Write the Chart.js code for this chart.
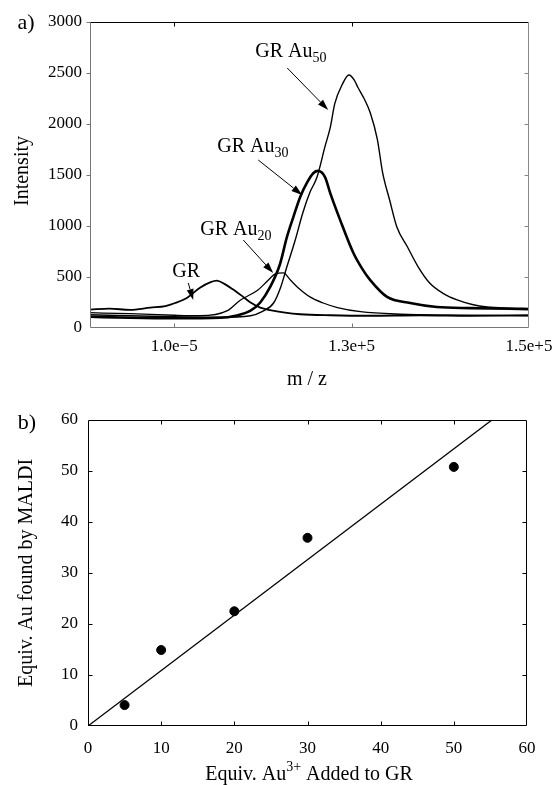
<!DOCTYPE html>
<html>
<head>
<meta charset="utf-8">
<script src="https://cdn.jsdelivr.net/npm/chart.js@4.4.0/dist/chart.umd.min.js"></script>
<style>
  body { margin: 0; background: #fff; width: 555px; height: 785px; overflow: hidden; }
  .box { position: absolute; left: 0; width: 555px; }
</style>
</head>
<body>
<div class="box" style="top:0;height:385px"><canvas id="spec"></canvas></div>
<div class="box" style="top:385px;height:400px"><canvas id="fit"></canvas></div>
<script>
// panel a) MALDI spectra
const mzGR = [100500, 102700, 105000, 107300, 109000, 110100, 111500, 112900, 114100, 114800, 115700, 116600, 117700, 118600, 119700, 120800, 122500, 124200, 127600, 132100, 137700, 143400, 150000]
const intGR = [180, 190, 178, 200, 215, 245, 300, 395, 450, 465, 430, 380, 310, 250, 200, 175, 150, 135, 125, 120, 125, 120, 125]

const mzAu20 = [100500, 105000, 110000, 112900, 116000, 117400, 119400, 120500, 121400, 122300, 123100, 123900, 125300, 126800, 128400, 131000, 135500, 141100, 150000]
const intAu20 = [150, 140, 125, 120, 170, 270, 370, 460, 530, 540, 470, 400, 305, 245, 200, 160, 135, 125, 120]

const mzAu30 = [100500, 105000, 110000, 115200, 116900, 118600, 119700, 120800, 121900, 122700, 123400, 124200, 125000, 125700, 126200, 127000, 127600, 128700, 130200, 131200, 132100, 134000, 136600, 139600, 143400, 150000]
const intAu30 = [110, 100, 95, 100, 120, 170, 250, 400, 620, 890, 1080, 1285, 1430, 1520, 1540, 1480, 1320, 1060, 735, 580, 470, 305, 245, 206, 195, 185]

const mzAu50 = [100500, 110000, 115000, 118600, 119900, 121200, 122000, 122700, 123600, 124500, 125300, 126100, 127000, 127600, 128100, 128900, 129700, 130300, 130700, 131400, 132100, 132900, 133500, 134300, 135100, 136300, 137500, 138800, 140300, 141900, 143600, 145300, 147900, 150000]
const intAu50 = [130, 110, 105, 120, 160, 245, 400, 600, 850, 1130, 1330, 1480, 1780, 1970, 2200, 2380, 2480, 2430, 2360, 2250, 2110, 1850, 1520, 1250, 990, 794, 600, 441, 340, 275, 230, 206, 195, 190]

const mzTicks = [110000, 130000, 150000]
const mzTickText = ['1.0e\u22125', '1.3e+5', '1.5e+5']

// panel b) Au found vs Au added
const addedAu = [5, 10, 20, 30, 50]
const foundAu = [4.1, 14.9, 22.5, 36.9, 50.8]
const fitX = [0, 55.2]
const fitY = [0, 60]

const SERIF = '"Liberation Serif", "Times New Roman", serif'

const pts = (xs, ys) => xs.map((v, i) => ({ x: v, y: ys[i] }))

// text pieces: [string, kind] kind 0 normal, 1 subscript, 2 superscript
function drawRich (ctx, parts, x, y, size, align) {
  const fontFor = k => (k === 0 ? size : Math.round(size * 0.68)) + 'px ' + SERIF
  let w = 0
  parts.forEach(([t, k]) => { ctx.font = fontFor(k); w += ctx.measureText(t).width })
  let cx = align === 'center' ? x - w / 2 : x
  ctx.textAlign = 'left'
  ctx.textBaseline = 'alphabetic'
  parts.forEach(([t, k]) => {
    ctx.font = fontFor(k)
    const dy = k === 1 ? size * 0.25 : k === 2 ? -size * 0.45 : 0
    ctx.fillText(t, cx, y + dy)
    cx += ctx.measureText(t).width
  })
}

function arrow (ctx, x1, y1, x2, y2) {
  const ang = Math.atan2(y2 - y1, x2 - x1)
  const L = 11, W = 3.5
  const bx = x2 - L * Math.cos(ang), by = y2 - L * Math.sin(ang)
  ctx.beginPath()
  ctx.moveTo(x1, y1)
  ctx.lineTo(bx, by)
  ctx.stroke()
  ctx.beginPath()
  ctx.moveTo(x2, y2)
  ctx.lineTo(bx + W * Math.sin(ang), by - W * Math.cos(ang))
  ctx.lineTo(bx - W * Math.sin(ang), by + W * Math.cos(ang))
  ctx.closePath()
  ctx.fill()
}

// box round the plot with ticks pointing inwards (or out on the left)
const framePlugin = {
  id: 'frame',
  afterDraw (chart, args, o) {
    const { ctx, chartArea: a, scales: { x, y } } = chart
    const L = Math.round(a.left) + 0.5, R = Math.round(a.right) - 0.5
    const T = Math.round(a.top) + 0.5, B = Math.round(a.bottom) - 0.5
    const seg = (c, x1, y1, x2, y2) => {
      ctx.strokeStyle = c
      ctx.beginPath(); ctx.moveTo(x1, y1); ctx.lineTo(x2, y2); ctx.stroke()
    }
    ctx.save()
    ctx.lineWidth = 1
    const n = o.len
    x.ticks.forEach(t => {
      const p = Math.round(x.getPixelForValue(t.value)) + 0.5
      if (p <= L + 1 || p >= R - 1) return
      seg(o.top, p, T, p, T + n)
      seg(o.bottom, p, B, p, B - n)
    })
    y.ticks.forEach(t => {
      const p = Math.round(y.getPixelForValue(t.value)) + 0.5
      if (p <= T + 1 || p >= B - 1) return
      seg(o.right, R, p, R - n, p)
      if (o.leftOut) seg(o.left, L, p, L - n, p)
      else seg(o.left, L, p, L + n, p)
    })
    if (o.leftOut) seg(o.left, L, T, L - n, T)
    seg(o.top, L, T, R, T)
    seg(o.right, R, T, R, B)
    seg(o.bottom, L, B, R, B)
    seg(o.left, L, T, L, B)
    ctx.restore()
  }
}

// axis titles, panel letters, peak labels with arrows
const notesPlugin = {
  id: 'notes',
  afterDraw (chart, args, o) {
    const { ctx, scales: { x, y } } = chart
    ctx.save()
    ctx.fillStyle = '#000'
    ctx.strokeStyle = '#000'
    ctx.lineWidth = 1
    ;(o.fixed || []).forEach(f => {
      ctx.save()
      ctx.translate(f.x, f.y)
      if (f.rot) ctx.rotate(f.rot)
      drawRich(ctx, f.parts, 0, f.size * 0.33, f.size, 'center')
      ctx.restore()
    })
    ;(o.peaks || []).forEach(p => {
      drawRich(ctx, p.parts, x.getPixelForValue(p.at[0]), y.getPixelForValue(p.at[1]), 20, 'left')
      arrow(ctx, x.getPixelForValue(p.from[0]), y.getPixelForValue(p.from[1]),
        x.getPixelForValue(p.to[0]), y.getPixelForValue(p.to[1]))
    })
    ctx.restore()
  }
}

const tickFont = { family: SERIF, size: 17 }
const plain = v => String(v)

function specLine (xs, ys, w) {
  return {
    data: pts(xs, ys),
    borderColor: '#000',
    borderWidth: w,
    pointRadius: 0,
    cubicInterpolationMode: 'monotone',
    fill: false
  }
}

new Chart(document.getElementById('spec'), {
  type: 'line',
  data: {
    datasets: [
      specLine(mzGR, intGR, 1.8),
      specLine(mzAu20, intAu20, 1.3),
      specLine(mzAu30, intAu30, 2.6),
      specLine(mzAu50, intAu50, 1.4)
    ]
  },
  options: {
    responsive: true,
    maintainAspectRatio: false,
    animation: false,
    layout: { padding: { top: 22, right: 26, left: 0, bottom: 0 } },
    scales: {
      x: {
        type: 'linear',
        min: 100500,
        max: 150000,
        afterBuildTicks: s => { s.ticks = mzTicks.map(v => ({ value: v })) },
        afterFit: s => { s.height = 57; s.paddingLeft = 0; s.paddingRight = 0 },
        grid: { display: false, drawTicks: false },
        border: { display: false },
        ticks: {
          autoSkip: false,
          maxRotation: 0,
          padding: 8,
          color: '#000',
          font: tickFont,
          callback: v => mzTickText[mzTicks.indexOf(v)]
        }
      },
      y: {
        min: 0,
        max: 3000,
        afterFit: s => { s.width = 90; s.paddingTop = 0; s.paddingBottom = 0 },
        grid: { display: false, drawTicks: false },
        border: { display: false },
        ticks: { stepSize: 500, padding: 8, color: '#000', font: tickFont, callback: plain }
      }
    },
    plugins: {
      legend: { display: false },
      tooltip: { enabled: false },
      frame: { top: '#000', right: '#888', bottom: '#777', left: '#777', len: 4, leftOut: true },
      notes: {
        fixed: [
          { parts: [['a)', 0]], x: 26, y: 22, size: 22 },
          { parts: [['Intensity', 0]], x: 21, y: 171, size: 20, rot: -Math.PI / 2 },
          { parts: [['m / z', 0]], x: 307, y: 378, size: 20 }
        ],
        peaks: [
          { parts: [['GR Au', 0], ['50', 1]], at: [119130, 2657], from: [122740, 2549], to: [127360, 2137] },
          { parts: [['GR Au', 0], ['30', 1]], at: [114850, 1725], from: [119470, 1647], to: [124430, 1304] },
          { parts: [['GR Au', 0], ['20', 1]], at: [112930, 912], from: [117780, 863], to: [121160, 539] },
          { parts: [['GR', 0]], at: [109770, 500], from: [111580, 441], to: [112140, 275] }
        ]
      }
    }
  },
  plugins: [framePlugin, notesPlugin]
})

new Chart(document.getElementById('fit'), {
  type: 'scatter',
  data: {
    datasets: [
      {
        data: pts(fitX, fitY),
        showLine: true,
        borderColor: '#000',
        borderWidth: 1.3,
        pointRadius: 0
      },
      {
        data: pts(addedAu, foundAu),
        backgroundColor: '#000',
        borderColor: '#000',
        pointRadius: 4.5
      }
    ]
  },
  options: {
    responsive: true,
    maintainAspectRatio: false,
    animation: false,
    layout: { padding: { top: 35, right: 28, left: 0, bottom: 0 } },
    scales: {
      x: {
        type: 'linear',
        min: 0,
        max: 60,
        afterFit: s => { s.height = 59; s.paddingLeft = 0; s.paddingRight = 0 },
        grid: { display: false, drawTicks: false },
        border: { display: false },
        ticks: { stepSize: 10, padding: 12, maxRotation: 0, color: '#000', font: tickFont, callback: plain }
      },
      y: {
        min: 0,
        max: 60,
        afterFit: s => { s.width = 88; s.paddingTop = 0; s.paddingBottom = 0 },
        grid: { display: false, drawTicks: false },
        border: { display: false },
        ticks: { stepSize: 10, padding: 10, color: '#000', font: tickFont, callback: plain }
      }
    },
    plugins: {
      legend: { display: false },
      tooltip: { enabled: false },
      frame: { top: '#000', right: '#000', bottom: '#000', left: '#000', len: 4, leftOut: false },
      notes: {
        fixed: [
          { parts: [['b)', 0]], x: 27, y: 37, size: 22 },
          { parts: [['Equiv. Au found by MALDI', 0]], x: 25, y: 188, size: 20, rot: -Math.PI / 2 },
          { parts: [['Equiv. Au', 0], ['3+', 2], [' Added to GR', 0]], x: 309, y: 388, size: 20 }
        ]
      }
    }
  },
  plugins: [framePlugin, notesPlugin]
})
</script>
</body>
</html>
